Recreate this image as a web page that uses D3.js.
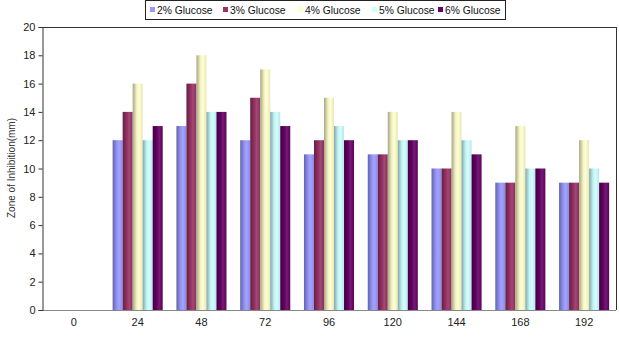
<!DOCTYPE html>
<html><head><meta charset="utf-8">
<script src="https://cdn.jsdelivr.net/npm/d3@7"></script>
<style>body{margin:0;background:#fff}svg{display:block}text{font-family:"Liberation Sans",Arial,sans-serif}</style>
</head><body><svg id="c" width="619" height="339"></svg>
<script>
const categories = ["0","24","48","72","96","120","144","168","192"];
const seriesNames = ["2% Glucose","3% Glucose","4% Glucose","5% Glucose","6% Glucose"];
const g2 = [0,12,13,12,11,11,10,9,9];
const g3 = [0,14,16,15,12,11,10,9,9];
const g4 = [0,16,18,17,15,14,14,13,12];
const g5 = [0,12,14,14,13,12,12,10,10];
const g6 = [0,13,14,13,12,12,11,10,9];
const yTicks = [0,2,4,6,8,10,12,14,16,18,20];
const colors = ["#9999FF","#993366","#FFFFCC","#CCFFFF","#660066"];
const series = [g2,g3,g4,g5,g6];

const svg = d3.select("#c");
const L=42, R=616, T=27, B=310;
const x = d3.scaleBand().domain(categories).range([L,R]).paddingInner(0.215).paddingOuter(0.1075);
const xs = d3.scaleBand().domain(seriesNames).range([0,x.bandwidth()]);
const y = d3.scaleLinear().domain([0,20]).range([B,T]);

const defs = svg.append("defs");
colors.forEach((c,i)=>{
  const gr = defs.append("linearGradient").attr("id","g"+i).attr("x1","0").attr("x2","1").attr("y1","0").attr("y2","0");
  gr.append("stop").attr("offset","0%").attr("stop-color", d3.interpolateRgb(c,"#000")(0.35));
  gr.append("stop").attr("offset","40%").attr("stop-color", d3.interpolateRgb(c,"#000")(0.05));
  gr.append("stop").attr("offset","65%").attr("stop-color", d3.interpolateRgb(c,"#fff")(0.1));
  gr.append("stop").attr("offset","100%").attr("stop-color", d3.interpolateRgb(c,"#000")(0.1));
});

// bars
series.forEach((s,i)=>{
  svg.append("g").selectAll("rect").data(s.map((v,j)=>({v,c:categories[j]}))).join("rect")
    .attr("x",d=>x(d.c)+xs(seriesNames[i]))
    .attr("width",xs.bandwidth())
    .attr("y",d=>y(d.v))
    .attr("height",d=>B-y(d.v))
    .attr("fill","url(#g"+i+")");
});

// frame
svg.append("line").attr("x1",L).attr("x2",R).attr("y1",T+0.5).attr("y2",T+0.5).attr("stroke","#333");
svg.append("line").attr("x1",R+0.5).attr("x2",R+0.5).attr("y1",T).attr("y2",B).attr("stroke","#333");
svg.append("line").attr("x1",L).attr("x2",R).attr("y1",B+0.5).attr("y2",B+0.5).attr("stroke","#888");

// y axis
const ya = svg.append("g").attr("transform",`translate(${L+0.5},0)`)
  .call(d3.axisLeft(y).tickValues(yTicks).tickSize(4).tickPadding(3));
ya.select(".domain").attr("stroke","#333");
ya.selectAll(".tick line").attr("stroke","#333");
ya.selectAll("text").attr("font-size","11px").attr("fill","#222").attr("font-family","'Liberation Sans',Arial,sans-serif");

// x labels
const xa = svg.append("g").attr("transform",`translate(0,${B})`)
  .call(d3.axisBottom(x).tickSize(0).tickPadding(8));
xa.select(".domain").remove();
xa.selectAll("text").attr("font-size","11px").attr("fill","#222").attr("font-family","'Liberation Sans',Arial,sans-serif");

// y title
svg.append("text").attr("transform","translate(15,168) rotate(-90)").attr("text-anchor","middle")
  .attr("font-size","10px").attr("fill","#333").text("Zone of Inhibition(mm)");

// legend
svg.append("rect").attr("x",145.5).attr("y",0.5).attr("width",360).attr("height",19).attr("fill","#fff").attr("stroke","#222");
const lx = [150,223,298,372,438];
seriesNames.forEach((n,i)=>{
  svg.append("rect").attr("x",lx[i]).attr("y",7).attr("width",5).attr("height",5).attr("fill",colors[i]);
  svg.append("text").attr("x",lx[i]+7).attr("y",14).attr("font-size","10.3px").attr("fill","#111").text(n);
});
</script></body></html>
